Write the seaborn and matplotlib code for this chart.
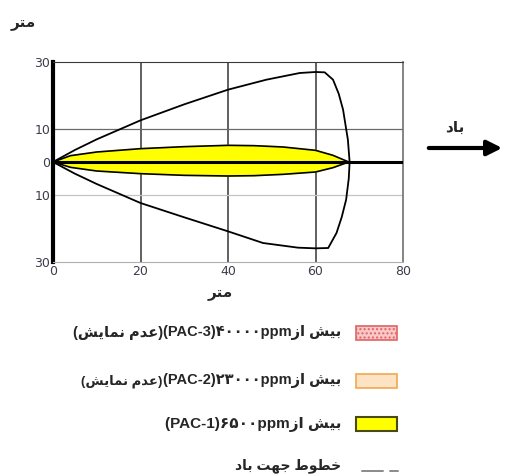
import numpy as np
import pandas as pd
import matplotlib
matplotlib.use("Agg")
import matplotlib.pyplot as plt
from matplotlib.patches import Rectangle
from matplotlib.lines import Line2D
import seaborn as sns

# outer envelope of the cloud (metres), drawn as one closed outline
env_x = [0, 5, 10, 20, 30, 40, 48.8, 56.4, 60, 62.1, 64, 65.3, 66.3, 67.4, 67.8,
         67.6, 67, 66, 64.8, 62.9, 60, 56, 48, 40, 30, 20, 10, 5, 0]
env_y = [0, 3.6, 6.8, 12.5, 17.3, 21.7, 24.7, 26.7, 27.0, 26.9, 24.7, 20.5, 15.7, 6.7, 0,
         -5, -11.3, -16.5, -21.3, -25.8, -25.9, -25.7, -24.3, -20.8, -16.6, -12.3, -6.6, -3.5, 0]

# yellow plume (PAC-1 zone)
plume_x = [0, 4, 10, 20, 30, 40, 46, 52.6, 60, 64, 67.6,
           64, 60, 52.6, 46, 40, 30, 20, 10, 4, 0]
plume_y = [0, 1.9, 3.0, 4.0, 4.6, 5.0, 4.9, 4.5, 3.5, 2.0, 0,
           -1.7, -3.0, -3.7, -4.1, -4.2, -4.0, -3.5, -2.7, -1.6, 0]

x_ticks = [0, 20, 40, 60, 80]
y_ticks = [30, 10, 0, -10, -30]
y_tick_labels = ["30", "10", "0", "10", "30"]

# Persian text, written in visual order with presentation forms
metr = "\uFEAE\uFE98\uFEE3"
bad = "\uFEA9\uFE8E\uFE91"
bish_az = "\uFEAF\uFE8D \uFEB6\uFEF4\uFE91"
adam = "(\uFEB6\uFEF3\uFE8E\uFEE4\uFEE7 \uFEE1\uFEAA\uFECB)"
khotut = "\uFEA9\uFE8E\uFE91 \uFE96\uFEEC\uFE9F \uFEC1\uFEEE\uFEC4\uFEA7"

legend_main = ["(PAC-3)\u06F4\u06F0\u06F0\u06F0\u06F0ppm" + bish_az,
               "(PAC-2)\u06F2\u06F3\u06F0\u06F0\u06F0ppm" + bish_az,
               "(PAC-1)\u06F6\u06F5\u06F0\u06F0ppm" + bish_az,
               khotut]
legend_main_size = [10.5, 10.5, 11, 10]
legend_extra = [adam, adam, "", ""]
legend_extra_size = [10.5, 9.5, 0, 0]
legend_faces = ["#f9c9c9", "#fde2c4", "#ffff00"]
legend_edges = ["#e06464", "#f0a850", "#4a4a10"]

sns.set_style("white")
plt.rcParams["font.family"] = ["Liberation Sans", "DejaVu Sans"]

fig = plt.figure(figsize=(5.06, 4.76), dpi=100)
ax = fig.add_axes([53 / 506, 1 - 262 / 476, 350 / 506, 200 / 476])

ax.fill(plume_x, plume_y, color="#ffff00", zorder=2)
sns.lineplot(x=plume_x, y=plume_y, sort=False, estimator=None, color="black",
             lw=1.2, ax=ax, zorder=3)
sns.lineplot(x=env_x, y=env_y, sort=False, estimator=None, color="black",
             lw=1.3, ax=ax, zorder=3)
ax.axhline(0, color="black", lw=2.2, zorder=4)

for xv in x_ticks[1:-1]:
    ax.axvline(xv, color="#454545", lw=1.2, zorder=1)
ax.axhline(10, color="#6a6a6a", lw=0.9, zorder=1)
ax.axhline(-10, color="#c4c4c4", lw=0.9, zorder=1)

ax.set_xlim(0, 80)
ax.set_ylim(-30, 30)
ax.set_xticks(x_ticks)
ax.set_xticklabels([str(v) for v in x_ticks])
ax.set_yticks(y_ticks)
ax.set_yticklabels(y_tick_labels)
ax.tick_params(length=0, pad=2, labelsize=9, labelcolor="#3c3c4c")
for lab in ax.get_xticklabels() + ax.get_yticklabels():
    lab.set_family("DejaVu Sans")
ax.set_xlabel("")
ax.set_ylabel("")

ax.spines["left"].set_color("black")
ax.spines["left"].set_linewidth(3)
ax.spines["top"].set_color("#3a3a3a")
ax.spines["right"].set_color("#707070")
ax.spines["right"].set_linewidth(1.2)
ax.spines["bottom"].set_color("#b0b0b0")

fig.text(23 / 506, 1 - 24 / 476, metr, ha="center", va="center",
         fontsize=11, fontweight="bold")
fig.text(220 / 506, 1 - 294 / 476, metr, ha="center", va="center",
         fontsize=11, fontweight="bold")

# wind arrow
fig.text(455 / 506, 1 - 128 / 476, bad, ha="center", va="center",
         fontsize=11, fontweight="bold")
ax.annotate("", xy=(505 / 506, 1 - 148 / 476), xytext=(426 / 506, 1 - 148 / 476),
            xycoords="figure fraction", textcoords="figure fraction",
            arrowprops=dict(arrowstyle="-|>,head_length=0.9,head_width=0.45",
                            lw=3, color="black"), annotation_clip=False)

# legend, built by hand: text right aligned, swatch to the right
row_y = [333, 381, 424, 466]
text_right = 341
renderer = fig.canvas.get_renderer()
for i, label in enumerate(legend_main):
    yy = 1 - row_y[i] / 476
    t = fig.text(text_right / 506, yy, label, ha="right", va="center",
                 fontsize=legend_main_size[i], fontweight="bold")
    if legend_extra[i]:
        bb = t.get_window_extent(renderer)
        fig.text(bb.x0 / fig.bbox.width, yy, legend_extra[i], ha="right",
                 va="center", fontsize=legend_extra_size[i], fontweight="bold")
    if i < 3:
        hatch = "...." if i == 0 else None
        lw = 1.5 if i == 2 else 1.2
        fig.patches.append(Rectangle((356 / 506, yy - 7 / 476), 41 / 506, 14 / 476,
                                     transform=fig.transFigure, facecolor=legend_faces[i],
                                     edgecolor=legend_edges[i], lw=lw, hatch=hatch))
    else:
        ly = 1 - 471 / 476
        for x0, x1 in [(362, 383), (390, 398)]:
            fig.lines.append(Line2D([x0 / 506, x1 / 506], [ly, ly],
                                    transform=fig.transFigure, color="#8a8a8a", lw=1.4))

fig.savefig("out.png", dpi=100)
